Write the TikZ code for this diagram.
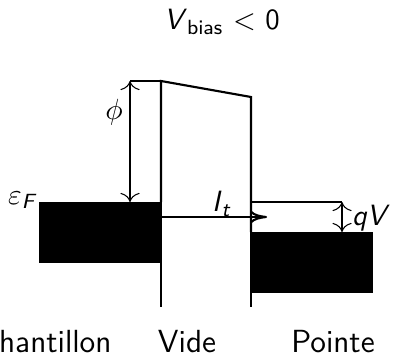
\documentclass[tikz,border=0pt]{standalone}
\usetikzlibrary{arrows.meta,positioning}
\tikzset{wall/.style={line width=0.8pt},edge/.style={line width=0.4pt},
  lbl/.style={font=\fontsize{11}{13}\sffamily,inner sep=0pt},
  zone/.style={font=\fontsize{12}{14}\sffamily,inner sep=0pt,anchor=base},
  cur/.style={-{To[length=2.2mm,width=1.6mm]},line width=0.8pt}}
\begin{document}
\begin{tikzpicture}[x=0.375pt,y=-0.375pt]
\useasboundingbox (0,0) rectangle (393,356);
\clip (0,0) rectangle (393,356);
% niveaux
\coordinate (tl) at (161,81);\coordinate (tr) at (251,97);
\coordinate (lf) at (161,202);\coordinate (rf) at (251,232);
\coordinate (lb) at (161,307);\coordinate (rb) at (251,307);
\fill (39,202) rectangle (161,263);
\fill (251,232) rectangle (373,293);
\draw[wall] (lf)--(tl)--(tr)--(rf);
\draw[edge] (lf)--(lb);\draw[edge] (rf)--(rb);
% phi
\coordinate (pt) at (130,81);\coordinate (pb) at (130,202);
\draw[edge] (pt)--(tl);
\draw[edge,{To[length=1.2mm]}-{To[length=1.2mm]}] (pb)--(pt);
\node[lbl] (phi) at (114,112) {$\phi$};
% qV
\coordinate (qa) at (342,202);\coordinate (qb) at (342,232);
\draw[edge] (251,202)--(qa);
\draw[edge,{To[length=1.2mm]}-{To[length=1.2mm]}] (qa)--(qb);
\node[lbl] (qv) at (371,218) {\textit{qV}};
% courant
\coordinate (ie) at (267,217);
\draw[cur] (161,217)--(ie);
\node[lbl] (it) at (222,204) {\textit{I}\textsubscript{\textit{t}}};
\node[lbl] (ef) at (23,200) {$\varepsilon$\textsubscript{\textit{F}}};
% titres
\node[lbl] (vb) at (222,22) {\textit{V}\textsubscript{bias} $<$ 0};
\node[zone,anchor=base east] (ech) at (112,352) {\'Echantillon};
\node[zone] (vide) at (187,352) {Vide};
\node[zone] (pte) at (333,352) {Pointe};
\end{tikzpicture}
\end{document}
